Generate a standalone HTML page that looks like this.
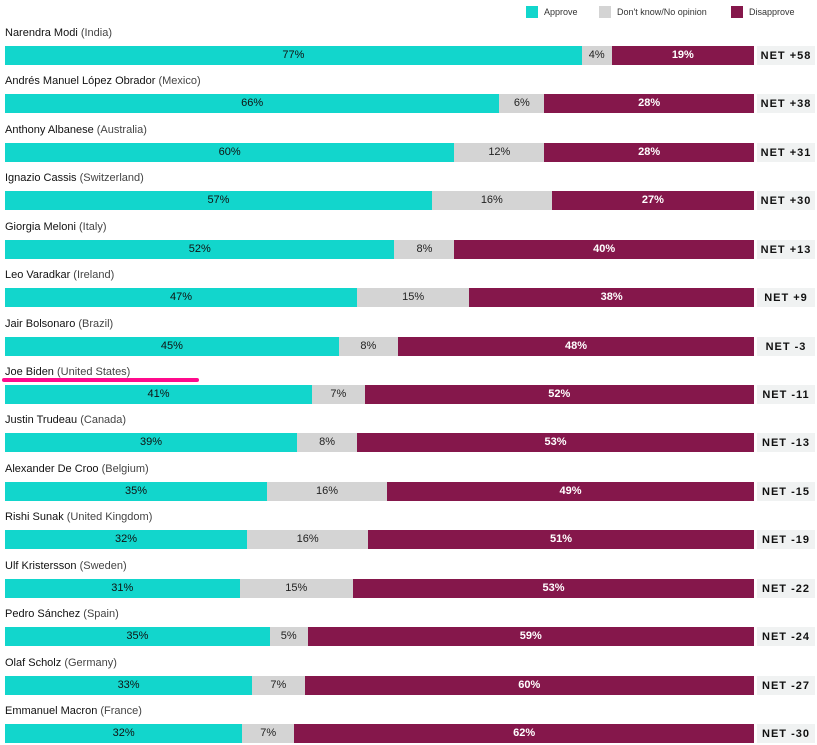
<!DOCTYPE html>
<html><head><meta charset="utf-8"><style>
body{margin:0;width:817px;height:745px;background:#fff;font-family:"Liberation Sans",sans-serif;position:relative;overflow:hidden}
.abs{position:absolute}
.lbl{font-size:11px;color:#111;white-space:nowrap}
.lbl span{color:#444}
.seg{position:absolute;height:19px;font-size:11px;line-height:19px;text-align:center;overflow:hidden}
.net{position:absolute;left:757px;width:58px;height:19px;background:#f0f2f2;font-size:11px;font-weight:bold;line-height:20px;text-align:center;letter-spacing:1px;color:#111}
.leg{font-size:9px;color:#333;top:7px}
.sq{width:12px;height:12px;top:6px}
</style></head><body>
<div class="abs sq" style="left:526px;background:#12d6cc"></div>
<div class="abs leg" style="left:544px">Approve</div>
<div class="abs sq" style="left:599px;background:#d4d4d4"></div>
<div class="abs leg" style="left:617px">Don't know/No opinion</div>
<div class="abs sq" style="left:731px;background:#85174b"></div>
<div class="abs leg" style="left:749px">Disapprove</div>
<div id="chart"></div>
<script>
const names=["Narendra Modi","Andrés Manuel López Obrador","Anthony Albanese","Ignazio Cassis","Giorgia Meloni","Leo Varadkar","Jair Bolsonaro","Joe Biden","Justin Trudeau","Alexander De Croo","Rishi Sunak","Ulf Kristersson","Pedro Sánchez","Olaf Scholz","Emmanuel Macron"];
const countries=["India","Mexico","Australia","Switzerland","Italy","Ireland","Brazil","United States","Canada","Belgium","United Kingdom","Sweden","Spain","Germany","France"];
const approve=[77,66,60,57,52,47,45,41,39,35,32,31,35,33,32];
const dontknow=[4,6,12,16,8,15,8,7,8,16,16,15,5,7,7];
const disapprove=[19,28,28,27,40,38,48,52,53,49,51,53,59,60,62];
const netLabels=["NET +58","NET +38","NET +31","NET +30","NET +13","NET +9","NET -3","NET -11","NET -13","NET -15","NET -19","NET -22","NET -24","NET -27","NET -30"];
const X0=5,W=749,Y0=46,PITCH=48.43;
const c=document.getElementById('chart');
names.forEach((n,i)=>{
  const y=Y0+i*PITCH;
  const l=document.createElement('div');
  l.className='abs lbl';l.style.left='5px';l.style.top=(y-19)+'px';
  l.innerHTML=n+' <span>('+countries[i]+')</span>';
  
  
  c.appendChild(l);
  const tot=approve[i]+dontknow[i]+disapprove[i];
  let x=X0;
  [[approve[i],'#12d6cc','#111','normal','approve'],[dontknow[i],'#d4d4d4','#222','normal','dontknow'],[disapprove[i],'#85174b','#fff','bold','disapprove']].forEach(s=>{
    const w=s[0]/tot*W;
    const d=document.createElement('div');
    d.className='seg';
    d.style.cssText+=`left:${x}px;top:${y}px;width:${w}px;background:${s[1]};color:${s[2]};font-weight:${s[3]}`;
    d.textContent=s[0]+'%';
    
    
    c.appendChild(d);x+=w;
  });
  const nt=document.createElement('div');
  nt.className='net';nt.style.top=y+'px';nt.textContent=netLabels[i];
  
  
  c.appendChild(nt);
  if(n==="Joe Biden"){
    const u=document.createElement('div');
    u.className='abs';u.style.cssText=`left:2px;top:${y-7}px;width:197px;height:4px;border-radius:2px;background:#ff0a8c`;
    
    
    c.appendChild(u);
  }
});
</script>
</body></html>
